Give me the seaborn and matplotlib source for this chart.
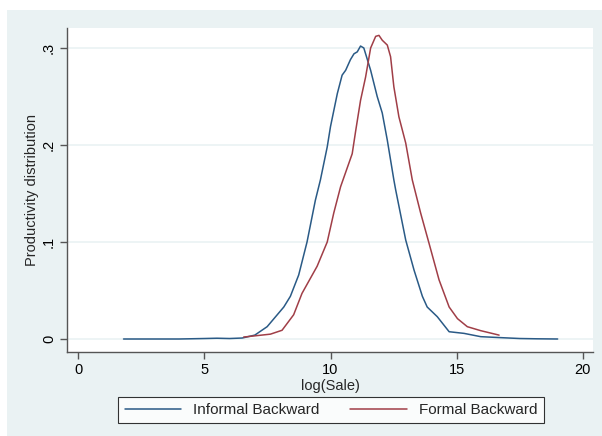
import pandas as pd
import numpy as np
import seaborn as sns
import matplotlib.pyplot as plt
from matplotlib.patches import Rectangle

# density curves
informal_x = [1.8, 3.0, 4.0, 5.0, 5.5, 6.0, 6.5, 7.0, 7.49, 8.15, 8.41, 8.74, 9.07, 9.4,
              9.6, 9.87, 10.0, 10.27, 10.46, 10.6, 10.79, 10.93, 11.06, 11.19, 11.32,
              11.59, 11.85, 12.05, 12.25, 12.51, 12.58, 12.98, 13.31, 13.64, 13.83,
              14.23, 14.7, 15.29, 15.95, 16.75, 17.5, 18.2, 19.0]
informal_y = [0.0, 0.0, 0.0, 0.0005, 0.0008, 0.0005, 0.001, 0.004, 0.0127, 0.033, 0.044,
              0.066, 0.100, 0.143, 0.164, 0.198, 0.219, 0.253, 0.272, 0.277, 0.288, 0.294,
              0.296, 0.302, 0.300, 0.277, 0.250, 0.233, 0.205, 0.164, 0.154, 0.102, 0.071,
              0.044, 0.033, 0.023, 0.0075, 0.0058, 0.0024, 0.0014, 0.0005, 0.0002, 0.0]

formal_x = [6.56, 7.62, 8.08, 8.54, 8.87, 9.47, 9.87, 10.13, 10.4, 10.86, 11.0, 11.19,
            11.39, 11.59, 11.79, 11.92, 12.05, 12.25, 12.38, 12.51, 12.71, 12.98, 13.24,
            13.57, 13.9, 14.3, 14.7, 15.03, 15.42, 15.95, 16.68]
formal_y = [0.002, 0.005, 0.009, 0.025, 0.047, 0.075, 0.100, 0.130, 0.157, 0.191, 0.215,
            0.246, 0.270, 0.300, 0.312, 0.313, 0.308, 0.303, 0.291, 0.260, 0.229, 0.202,
            0.164, 0.130, 0.099, 0.061, 0.033, 0.021, 0.0127, 0.0086, 0.004]

series_names = ["Informal Backward", "Formal Backward"]
colors = ["#2a5a86", "#a03e47"]
x_ticks = [0, 5, 10, 15, 20]
y_ticks = [0, 0.1, 0.2, 0.3]
y_tick_labels = ["0", ".1", ".2", ".3"]

df = pd.concat([
    pd.DataFrame({"x": informal_x, "y": informal_y, "series": series_names[0]}),
    pd.DataFrame({"x": formal_x, "y": formal_y, "series": series_names[1]}),
])

sns.set_style("white")
plt.rcParams["font.family"] = ["Liberation Sans", "DejaVu Sans"]

fig = plt.figure(figsize=(6.02, 4.36), dpi=100)
fig.patch.set_facecolor("white")
# Stata-like graph region
fig.patches.append(Rectangle((7 / 602, 0), 1, 1 - 10 / 436, transform=fig.transFigure,
                             facecolor="#eaf2f3", edgecolor="none", zorder=-10))

ax = fig.add_axes([67 / 602, 1 - 352 / 436, (593 - 67) / 602, (352 - 28) / 436])
ax.set_facecolor("white")

sns.lineplot(data=df, x="x", y="y", hue="series", palette=colors, sort=False,
             estimator=None, units="series", linewidth=1.1, ax=ax)

ax.set_xlim(-0.44, 20.4)
ax.set_ylim(-0.0134, 0.3206)
ax.set_xticks(x_ticks)
ax.set_yticks(y_ticks)
ax.set_yticklabels(y_tick_labels, rotation=90, va="center")
ax.yaxis.grid(True, color="#eaf2f3", linewidth=1.2)
ax.set_axisbelow(True)

for side in ["top", "right"]:
    ax.spines[side].set_visible(False)
for side in ["left", "bottom"]:
    ax.spines[side].set_color("#555555")
    ax.spines[side].set_linewidth(1.0)
ax.tick_params(axis="both", direction="out", length=5, width=1, color="#555555",
               labelsize=10.5, labelcolor="black", pad=3)
ax.tick_params(axis="both", which="both", bottom=True, left=True)

ax.set_xlabel("log(Sale)", fontsize=10.5, labelpad=1)
ax.set_ylabel("Productivity distribution", fontsize=10.5, labelpad=2)

handles, labels = ax.get_legend_handles_labels()
ax.get_legend().remove()
leg = fig.legend(handles, labels, loc="center", bbox_to_anchor=(331 / 602, 1 - 410 / 436),
                 ncol=2, frameon=True, fancybox=False, edgecolor="black", fontsize=11,
                 handlelength=3.7, columnspacing=2.0, handletextpad=0.8,
                 borderpad=0.4)
leg.get_frame().set_linewidth(0.8)

fig.savefig("out.png", dpi=100)
